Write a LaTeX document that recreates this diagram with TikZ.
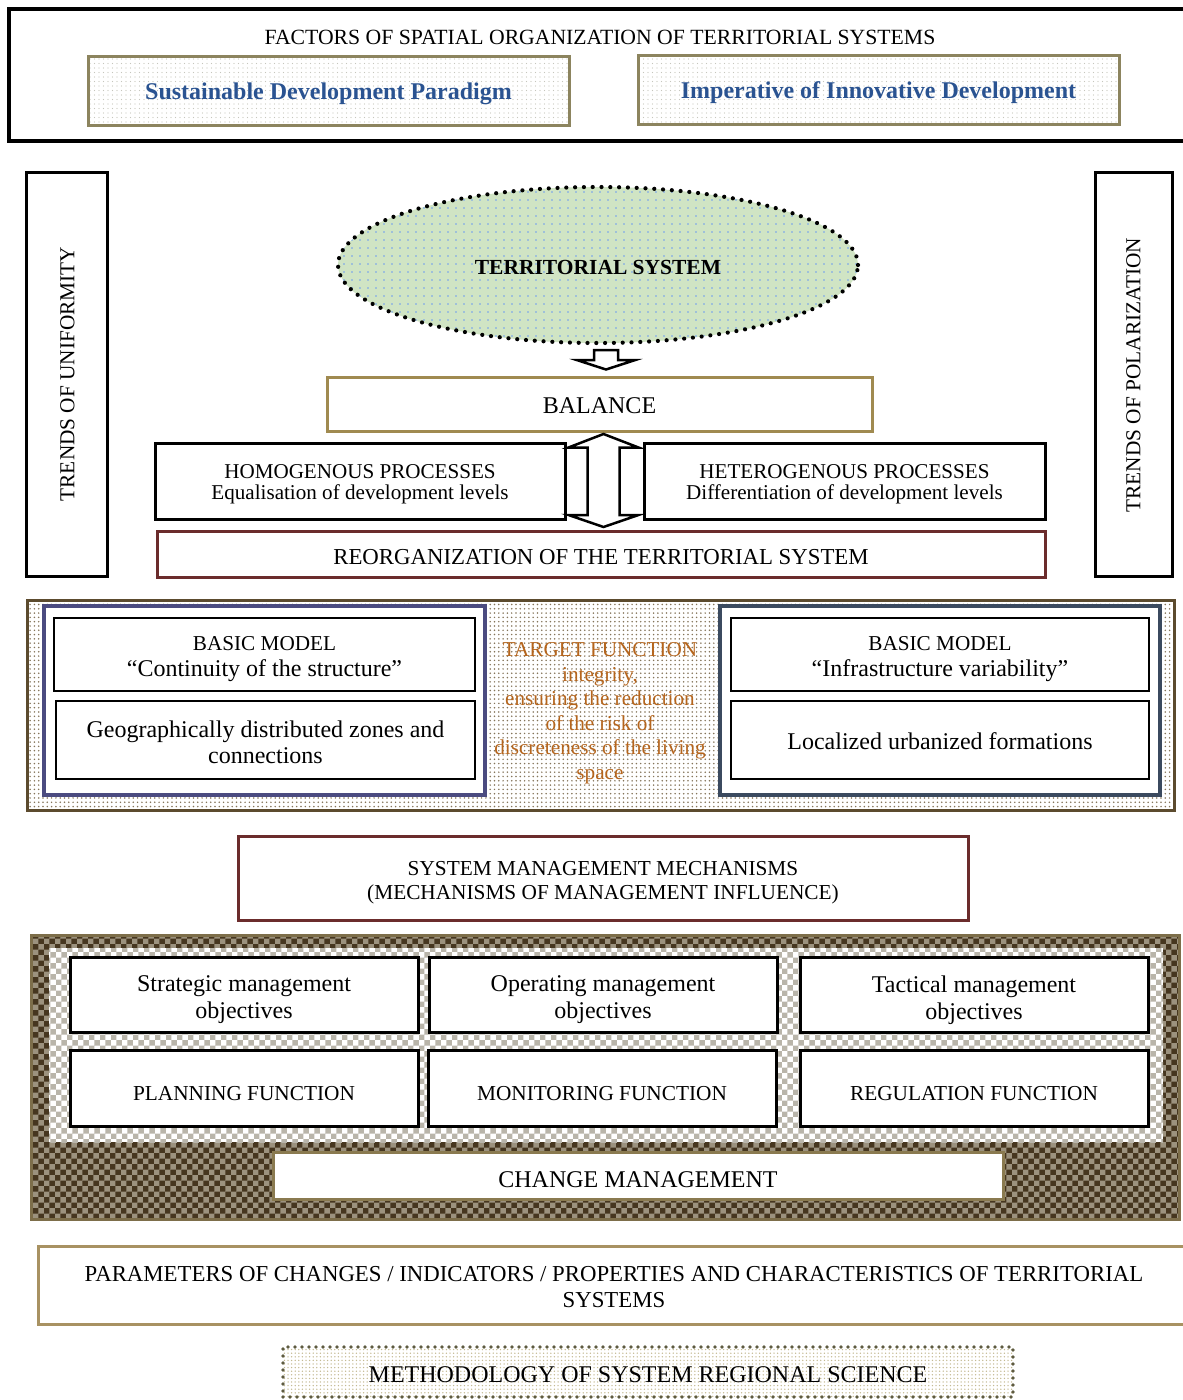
\documentclass[tikz,border=0pt]{standalone}
\usepackage{fontspec}
\setmainfont{Liberation Serif}
\usetikzlibrary{calc,patterns,patterns.meta,shapes.geometric}
\definecolor{sdpborder}{HTML}{8C845E}
\definecolor{bluetext}{HTML}{2A5391}
\definecolor{balborder}{HTML}{A08A50}
\definecolor{redborder}{HTML}{6B2C2C}
\definecolor{midborder}{HTML}{5C4B2E}
\definecolor{leftframe}{HTML}{4B4B80}
\definecolor{rightframe}{HTML}{3B4A5F}
\definecolor{mgmtborder}{HTML}{7D6E4A}
\definecolor{darkbrown}{HTML}{46361F}
\definecolor{checklight}{HTML}{9C927E}
\definecolor{innercheck}{HTML}{B9B5AA}
\definecolor{cmborder}{HTML}{8A7A50}
\definecolor{paramborder}{HTML}{A89262}
\definecolor{methborder}{HTML}{5E5B40}
\definecolor{methdots}{HTML}{C4BA92}
\definecolor{tfcolor}{HTML}{B5651D}
\definecolor{tsgreen}{HTML}{D0E4C4}
\definecolor{tsdot}{HTML}{6D9CF0}
\definecolor{middots}{HTML}{85755A}
\definecolor{sdpdots}{HTML}{C6C6BC}
\newcommand{\fsz}[2]{\fontsize{#1}{#2}\selectfont}
\begin{document}
\begin{tikzpicture}[x=1pt,y=-1pt,
  bx/.style={draw, rectangle, inner sep=0pt, line width=3pt},
  thinbx/.style={bx, line width=2.5pt, fill=white},
  dotfill/.style={preaction={fill=white}, pattern={Dots[distance=4.5pt,radius=0.6pt]}, pattern color=#1},
  harrow/.style={draw, fill=white, line width=2.5pt, line join=miter},
  txt/.style={align=center, inner sep=0pt},
  f21/.style={txt, font=\fsz{21.3}{24}},
  f24/.style={txt, font=\fsz{24}{27}}
]
\useasboundingbox (0,0) rectangle (1183,1400);
\clip (0,0) rectangle (1183,1400);

% ---------- top frame ----------
\node[bx, line width=3.5pt, minimum width=1190pt, minimum height=132pt] (factors) at (604,75) {};
\node[txt, font=\fsz{21.7}{24}] (factorstitle) at (600,37) {FACTORS OF SPATIAL ORGANIZATION OF TERRITORIAL SYSTEMS};
\node[bx, draw=sdpborder, dotfill=sdpdots, minimum width=481pt, minimum height=69pt] (sdp) at (328.5,90.5) {};
\node[txt, font=\bfseries\fsz{24}{27}, text=bluetext] (sdptext) at ($(sdp)+(0,3.5)$) {Sustainable Development Paradigm};
\node[bx, draw=sdpborder, dotfill=sdpdots, minimum width=481pt, minimum height=69pt] (iid) at (878.5,89.5) {};
\node[txt, font=\bfseries\fsz{24}{27}, text=bluetext] (iidtext) at ($(iid)+(0,3.5)$) {Imperative of Innovative Development};

% ---------- side frames ----------
\node[bx, minimum width=81pt, minimum height=404pt] (uni) at (66.5,374) {};
\node[f21, rotate=90] (unitext) at ($(uni.center)+(1,0)$) {TRENDS OF UNIFORMITY};
\node[bx, minimum width=77pt, minimum height=404pt] (pol) at (1133.5,374) {};
\node[f21, rotate=90] (poltext) at ($(pol.center)+(0,1)$) {TRENDS OF POLARIZATION};

% ---------- territorial system ----------
\node[ellipse, draw, dash pattern=on 0pt off 8.8pt, line cap=round, line width=4.2pt,
      minimum width=520pt, minimum height=156pt, inner sep=0pt,
      preaction={fill=tsgreen}, pattern={Dots[distance=8pt,radius=0.8pt]}, pattern color=tsdot] (ts) at (598,265) {};
\node[txt, font=\bfseries\fsz{21.5}{24}] (tstext) at ($(ts)+(0,2)$) {TERRITORIAL SYSTEM};

\node[bx, draw=balborder, fill=white, minimum width=545pt, minimum height=54pt] (bal) at (599.5,404) {};
\node[f24] (baltext) at ($(bal)+(0,2)$) {BALANCE};

\coordinate (da) at ($(ts.south)+(8,5)$);
\coordinate (db) at ($(bal.north)+(6.5,-6)$);
\draw[harrow] ($(da)+(-12,0)$) -- ($(da)+(12,0)$) -- ($(da)+(12,10)$) -- ($(da)+(29,10)$) -- (db)
   -- ($(da)+(-29,10)$) -- ($(da)+(-12,10)$) -- cycle;

\node[bx, fill=white, minimum width=410pt, minimum height=76pt] (homo) at (360,481) {};
\node[txt, font=\fsz{21.1}{21}] (homotext) at ($(homo)+(0,3)$) {HOMOGENOUS PROCESSES\\Equalisation of development levels};
\node[bx, fill=white, minimum width=401pt, minimum height=76pt] (hetero) at (844.5,481) {};
\node[txt, font=\fsz{21.1}{21}] (heterotext) at ($(hetero)+(0,3)$) {HETEROGENOUS PROCESSES\\Differentiation of development levels};
\node[bx, draw=redborder, fill=white, minimum width=888pt, minimum height=46pt] (reorg) at (601,554) {};
\node[txt, font=\fsz{22.8}{25}] (reorgtext) at ($(reorg)+(0,3)$) {REORGANIZATION OF THE TERRITORIAL SYSTEM};

\coordinate (ut) at ($(bal.south)+(4,1.5)$);
\coordinate (lt) at ($(reorg.north)+(2.5,-2.5)$);
\draw[harrow] (ut) -- ($(ut)+(35,13.5)$) -- ($(ut)+(16,13.5)$) -- ($(lt)+(16,-12)$) -- ($(lt)+(35,-12)$)
   -- (lt) -- ($(lt)+(-35,-12)$) -- ($(lt)+(-16,-12)$) -- ($(ut)+(-16,13.5)$) -- ($(ut)+(-35,13.5)$) -- cycle;

% ---------- middle section ----------
\node[bx, draw=midborder, preaction={fill=white}, pattern={Dots[distance=4.3pt,radius=0.85pt]}, pattern color=middots,
      minimum width=1147pt, minimum height=210pt] (mid) at (600.5,705) {};
\node[bx, draw=leftframe, line width=4pt, fill=white, minimum width=441pt, minimum height=189pt] (lframe) at (264.5,700.5) {};
\node[bx, draw=rightframe, line width=4pt, fill=white, minimum width=440pt, minimum height=189pt] (rframe) at (940,700.5) {};
\node[thinbx, minimum width=421pt, minimum height=73pt] (bm1) at (264.5,654.5) {};
\node[txt, font=\fsz{21.2}{26}] (bm1text) at ($(bm1)+(0,5)$) {BASIC MODEL\\{\fsz{24}{26}“Continuity of the structure”}};
\node[thinbx, minimum width=419pt, minimum height=78pt] (geo) at (265.5,740) {};
\node[txt, font=\fsz{24}{26}] (geotext) at ($(geo)+(0,2)$) {Geographically distributed zones and\\connections};
\node[thinbx, minimum width=418pt, minimum height=73pt] (bm2) at (940,654.5) {};
\node[txt, font=\fsz{21.2}{26}] (bm2text) at ($(bm2)+(0,5)$) {BASIC MODEL\\{\fsz{24}{26}“Infrastructure variability”}};
\node[thinbx, minimum width=418pt, minimum height=78pt] (loc) at (940,740) {};
\node[f24] (loctext) at ($(loc)+(0,1.5)$) {Localized urbanized formations};
\node[txt, font=\fsz{21.2}{24.5}, text=tfcolor] (tf) at (600,713)
   {TARGET FUNCTION\\integrity,\\ensuring the reduction\\of the risk of\\discreteness of the living\\space};

% ---------- mechanisms ----------
\node[bx, draw=redborder, fill=white, minimum width=730pt, minimum height=84pt] (smm) at (603,878) {};
\node[f21] (smmtext) at ($(smm)+(0,5)$) {SYSTEM MANAGEMENT MECHANISMS\\(MECHANISMS OF MANAGEMENT INFLUENCE)};

% ---------- management block ----------
\node[bx, draw=mgmtborder, preaction={fill=darkbrown}, pattern=checkerboard, pattern color=checklight,
      minimum width=1148pt, minimum height=284pt] (mgmt) at (605,1077) {};
\node[rectangle, inner sep=0pt, preaction={fill=white}, pattern=checkerboard, pattern color=innercheck,
      minimum width=1114pt, minimum height=194pt] (inner) at (606,1045) {};
\node[bx, fill=white, minimum width=348pt, minimum height=75pt] (strat) at (244,994.5) {};
\node[f24] (strattext) at ($(strat)+(0,5.5)$) {Strategic management\\objectives};
\node[bx, fill=white, minimum width=348pt, minimum height=75pt] (oper) at (603,994.5) {};
\node[f24] (opertext) at ($(oper)+(0,5.5)$) {Operating management\\objectives};
\node[bx, fill=white, minimum width=348pt, minimum height=75pt] (tact) at (974,994.5) {};
\node[f24] (tacttext) at ($(tact)+(0,5.5)$) {Tactical management\\objectives};
\node[bx, fill=white, minimum width=348pt, minimum height=76pt] (plan) at (244,1088) {};
\node[f21] (plantext) at ($(plan)+(0,6)$) {PLANNING FUNCTION};
\node[bx, fill=white, minimum width=348pt, minimum height=76pt] (moni) at (602,1088) {};
\node[f21] (monitext) at ($(moni)+(0,6)$) {MONITORING FUNCTION};
\node[bx, fill=white, minimum width=348pt, minimum height=76pt] (regu) at (974,1088) {};
\node[f21] (regutext) at ($(regu)+(0,6)$) {REGULATION FUNCTION};
\node[bx, draw=cmborder, fill=white, minimum width=730pt, minimum height=47pt] (cm) at (638,1175.5) {};
\node[f24] (cmtext) at ($(cm)+(0,4)$) {CHANGE MANAGEMENT};

% ---------- bottom ----------
\node[bx, draw=paramborder, fill=white, minimum width=1157pt, minimum height=78pt] (params) at (616.5,1285) {};
\node[txt, font=\fsz{22.8}{26}] (paramtext) at (614,1287)
   {PARAMETERS OF CHANGES / INDICATORS / PROPERTIES AND CHARACTERISTICS OF TERRITORIAL\\SYSTEMS};
\node[rectangle, inner sep=0pt, draw=methborder, dash pattern=on 0pt off 7pt, line cap=round, line width=3.8pt,
      preaction={fill=white}, pattern={Dots[distance=3.6pt,radius=0.75pt]}, pattern color=methdots,
      minimum width=730pt, minimum height=50pt] (meth) at (648,1372) {};
\node[f24] (methtext) at ($(meth)+(0,3)$) {METHODOLOGY OF SYSTEM REGIONAL SCIENCE};
\end{tikzpicture}
\end{document}
